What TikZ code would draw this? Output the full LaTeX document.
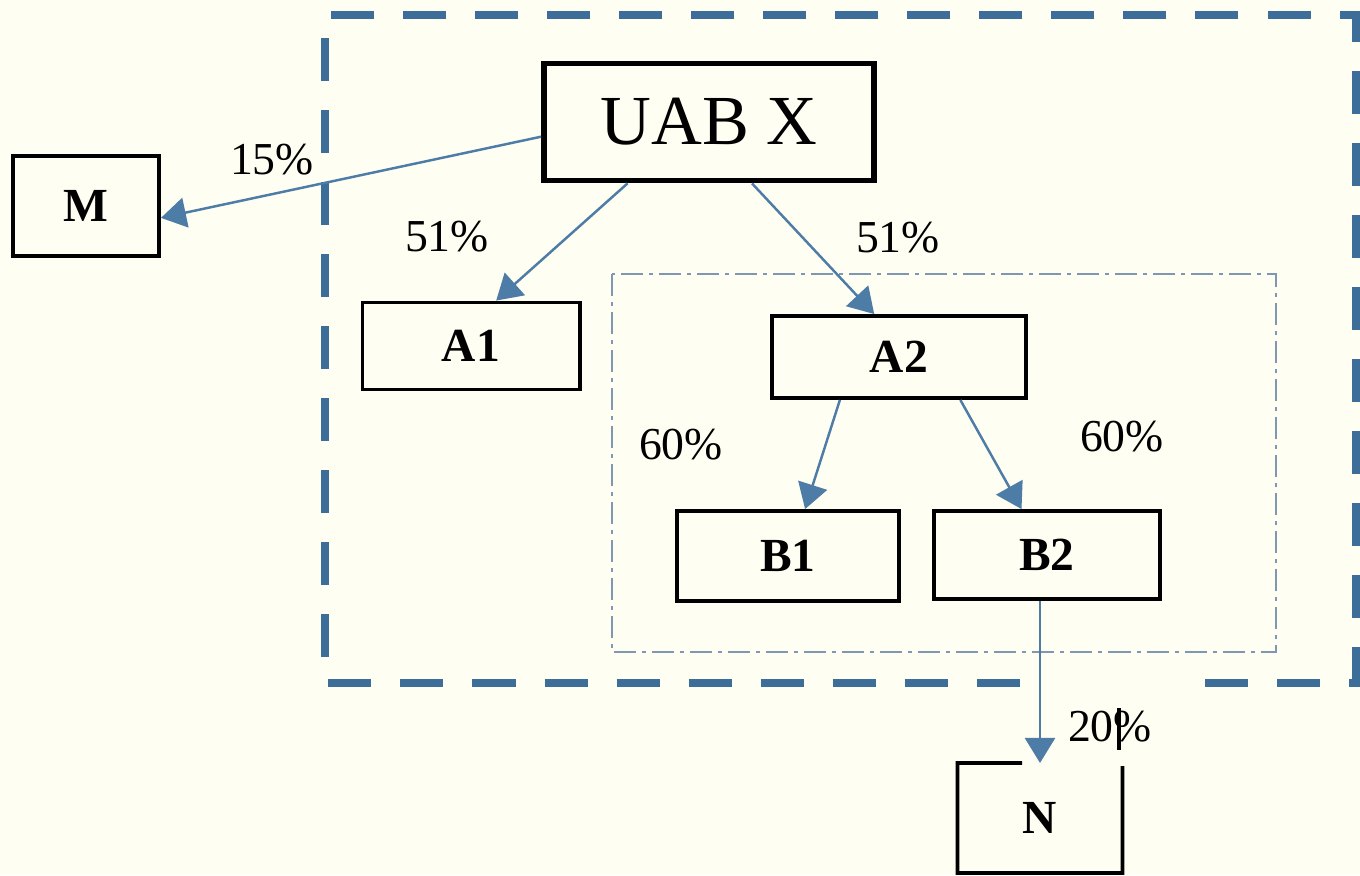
\documentclass[tikz,border=0pt]{standalone}
\usepackage{fontspec}
\setmainfont{Liberation Serif}
\usepackage{tikz}
\usetikzlibrary{arrows, arrows.meta}
\definecolor{bgcream}{HTML}{FFFEF2}
\definecolor{arrowblue}{HTML}{4D7CA6}
\definecolor{frameblue}{HTML}{3C6E99}
\definecolor{dotblue}{HTML}{7F97B0}

\begin{document}
\begin{tikzpicture}[x=0.01cm, y=-0.01cm]
\tikzstyle{company}=[rectangle, draw, line width=1.1pt, inner sep=0pt, font=\bfseries\fontsize{13.5}{16}\selectfont]
\tikzstyle{pct}=[inner sep=1pt, font=\fontsize{13}{15}\selectfont]
\tikzstyle{share}=[draw=arrowblue, line width=0.7pt, -{Triangle[length=0.25cm, width=0.3cm]}]

\useasboundingbox[fill=bgcream] (0,0) rectangle (1360,875);

% group frames
\draw[frameblue, line width=2.3pt, dash pattern=on 0.43cm off 0.29cm]
   (1205,683) -- (1356,683) -- (1356,15) -- (325,15) -- (325,683) -- (1023,683);
\draw[dotblue, line width=0.8pt, dash pattern=on 0.22cm off 0.06cm on 0.04cm off 0.06cm]
   (612,274) rectangle (1276,652);

\node[company, line width=1.6pt, minimum width=3.3cm, minimum height=1.17cm, font=\fontsize{20}{24}\selectfont] (uab) at (709,122) {UAB X};
\node[company, minimum width=1.46cm, minimum height=1cm] (m) at (86,206) {M};
\node[company, minimum width=2.17cm, minimum height=0.87cm] (a1) at (471,346) {A1};
\node[company, minimum width=2.53cm, minimum height=0.82cm] (a2) at (899,357) {A2};
\node[company, minimum width=2.22cm, minimum height=0.9cm] (b1) at (788,556) {B1};
\node[company, minimum width=2.26cm, minimum height=0.88cm] (b2) at (1047,555) {B2};
\node[company, draw=none, outer sep=0pt, minimum width=1.65cm, minimum height=1.1cm] (n) at (1040,818) {N};
\draw[line width=1.1pt] (1022,763) -- (n.north west) -- (n.south west) -- (n.south east) -- (1122.5,766);
\draw[line width=1.1pt] (1119,708) -- (1119,750);

\draw[share] (uab.185) -- (m.-9);
\draw[share] (uab.217) -- (a1.61);
\draw[share] (uab.-55) -- (a2.120);
\draw[share] (a2.216) -- (b1.70);
\draw[share] (a2.-35) -- (b2.119);
\draw[share] (n.north |- b2.south) -- (n.north);

\foreach \nm/\txt/\px/\py in {pm/15/272/160, pa1/51/447/237, pa2/51/898/238, pb1/60/681/445, pb2/60/1122/437, pn/20/1110/727}
   \node[pct] (\nm) at (\px,\py) {\txt\%};

\end{tikzpicture}
\end{document}
